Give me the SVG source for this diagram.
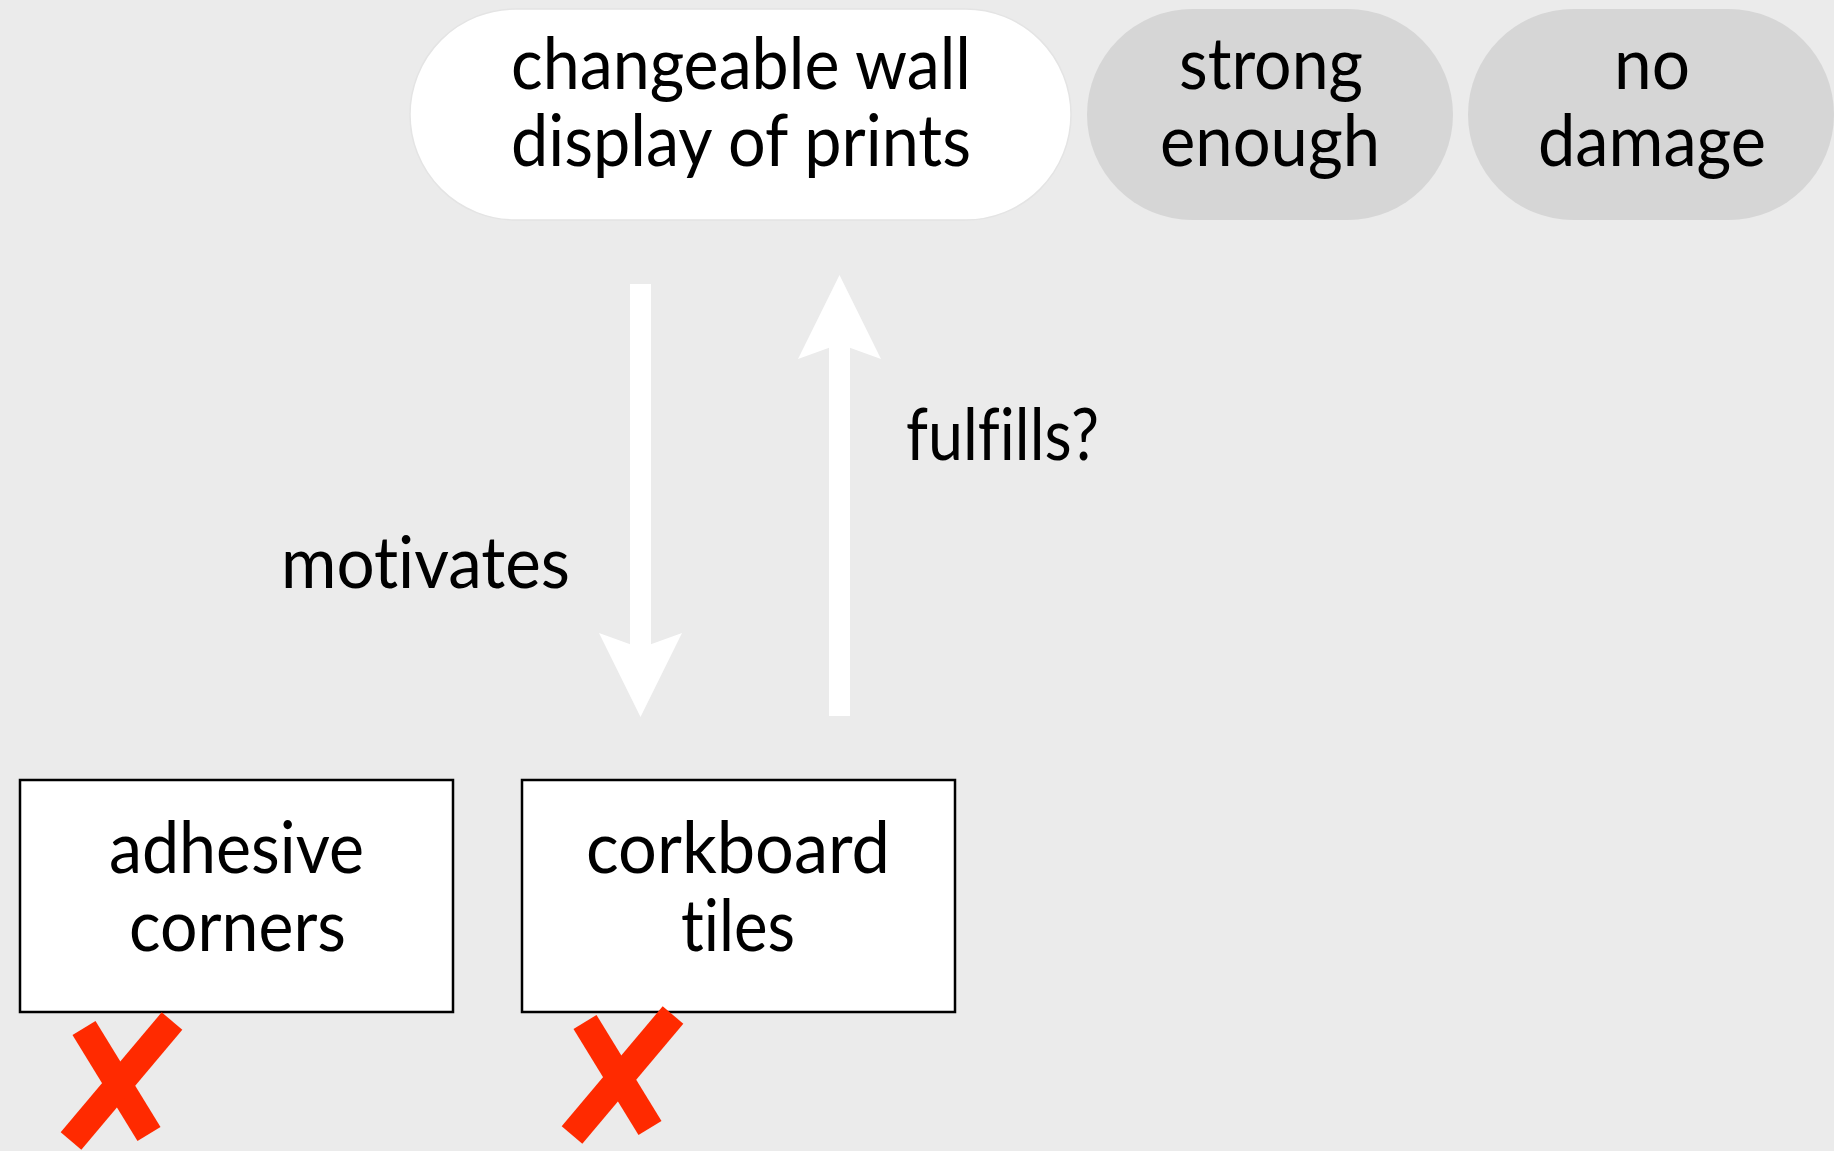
<svg xmlns="http://www.w3.org/2000/svg" width="1834" height="1151" viewBox="0 0 1834 1151">
  <style>
    .t { font-family: Lato, "Open Sans", "Liberation Sans", sans-serif; font-size: 72px; fill: #000; font-variant-ligatures: none; font-feature-settings: "liga" 0, "clig" 0; }
    .pill-w { fill: #ffffff; stroke: #e4e4e4; stroke-width: 1.5; }
    .pill-g { fill: #d6d6d6; }
    .box { fill: #ffffff; stroke: #000; stroke-width: 2.5; }
    .conn { stroke: #ffffff; stroke-width: 21; fill: none; }
    .xmark { stroke: #ff2a00; stroke-width: 27; stroke-linecap: butt; fill: none; }
  </style>
  <defs>
    <marker id="head" markerUnits="userSpaceOnUse" markerWidth="84" markerHeight="83" viewBox="0 0 84 83" refX="15" refY="41.5" orient="auto">
      <path d="M0,0 L84,41.5 L0,83 L15,41.5 Z" fill="#ffffff"/>
    </marker>
    <g id="cross">
      <line class="xmark" x1="84" y1="1028" x2="149" y2="1134"/>
      <line class="xmark" x1="172" y1="1021" x2="71" y2="1141"/>
    </g>
  </defs>
  <rect x="0" y="0" width="1834" height="1151" fill="#ebebeb"/>

  <g id="connectors">
    <line class="conn" x1="640.5" y1="284" x2="640.5" y2="648" marker-end="url(#head)"/>
    <line class="conn" x1="839.5" y1="716" x2="839.5" y2="344" marker-end="url(#head)"/>
    <text class="t" x="425.5" y="588" text-anchor="middle" textLength="289" lengthAdjust="spacingAndGlyphs">motivates</text>
    <text class="t" x="1002.5" y="460" text-anchor="middle" textLength="193" lengthAdjust="spacingAndGlyphs">fulfills?</text>
  </g>

  <g id="node-goal">
    <rect class="pill-w" x="410" y="9" width="661" height="211" rx="105.5" ry="105.5"/>
    <text class="t" x="741" y="89" text-anchor="middle" textLength="460" lengthAdjust="spacingAndGlyphs">changeable wall</text>
    <text class="t" x="741" y="166" text-anchor="middle" textLength="460" lengthAdjust="spacingAndGlyphs">display of prints</text>
  </g>

  <g id="node-strong">
    <rect class="pill-g" x="1087" y="9" width="366" height="211" rx="105.5" ry="105.5"/>
    <text class="t" x="1271" y="89" text-anchor="middle" textLength="184" lengthAdjust="spacingAndGlyphs">strong</text>
    <text class="t" x="1270" y="166" text-anchor="middle" textLength="220" lengthAdjust="spacingAndGlyphs">enough</text>
  </g>

  <g id="node-nodamage">
    <rect class="pill-g" x="1468" y="9" width="366" height="211" rx="105.5" ry="105.5"/>
    <text class="t" x="1652" y="89" text-anchor="middle" textLength="76" lengthAdjust="spacingAndGlyphs">no</text>
    <text class="t" x="1652" y="166" text-anchor="middle" textLength="228" lengthAdjust="spacingAndGlyphs">damage</text>
  </g>

  <g id="node-adhesive">
    <rect class="box" x="20" y="780" width="433" height="232"/>
    <text class="t" x="236.5" y="873" text-anchor="middle" textLength="255" lengthAdjust="spacingAndGlyphs">adhesive</text>
    <text class="t" x="237.5" y="951" text-anchor="middle" textLength="217" lengthAdjust="spacingAndGlyphs">corners</text>
    <use href="#cross"/>
  </g>

  <g id="node-corkboard">
    <rect class="box" x="522" y="780" width="433" height="232"/>
    <text class="t" x="738" y="873" text-anchor="middle" textLength="304" lengthAdjust="spacingAndGlyphs">corkboard</text>
    <text class="t" x="738" y="951" text-anchor="middle" textLength="114" lengthAdjust="spacingAndGlyphs">tiles</text>
    <use href="#cross" transform="translate(501,-6)"/>
  </g>
</svg>
